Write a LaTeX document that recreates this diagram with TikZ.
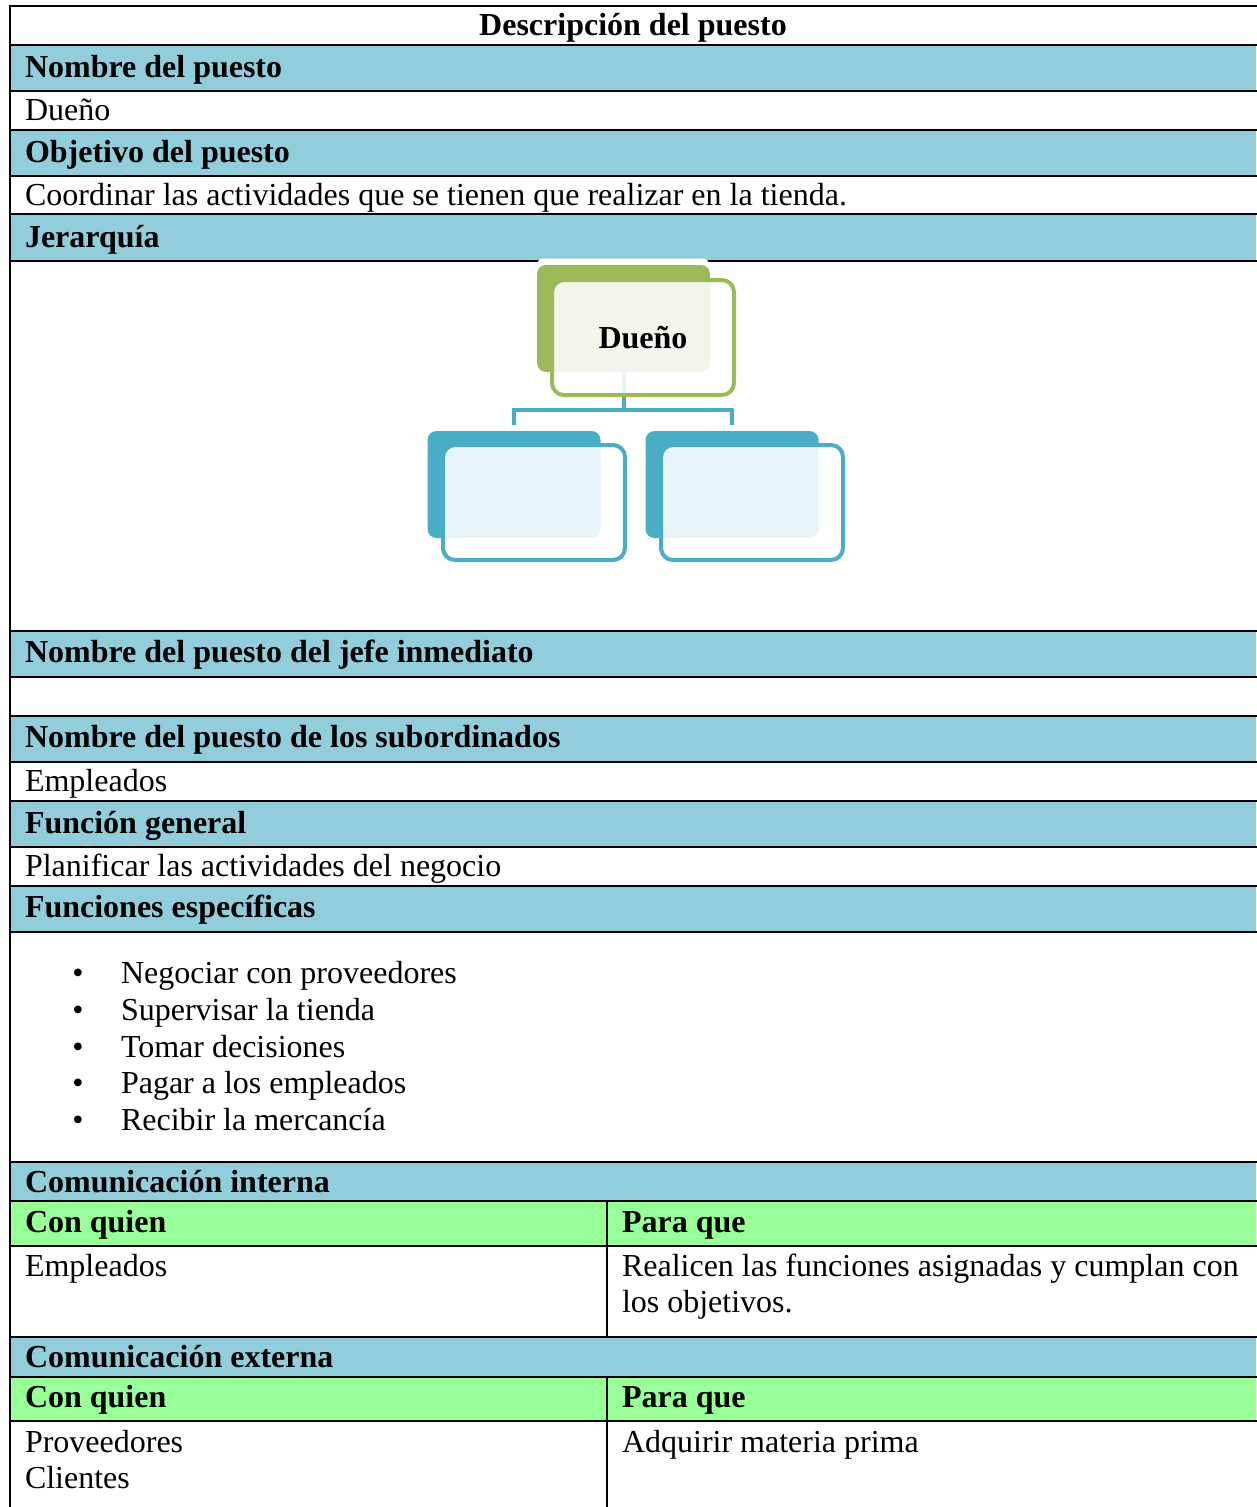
\documentclass[tikz,border=0pt]{standalone}
\usepackage{fontspec}
\setmainfont{Liberation Serif}
\begin{document}
\definecolor{hdrblue}{HTML}{92CDDC}
\definecolor{hdrgreen}{HTML}{99FF99}
\definecolor{orgreen}{HTML}{9BBB59}
\definecolor{orblue}{HTML}{4BACC6}
\begin{tikzpicture}[x=1pt,y=-1pt,
  every node/.style={inner sep=0pt,outer sep=0pt},
  txt/.style={anchor=base west,font=\fontsize{32pt}{36.8pt}\selectfont},
  hdr/.style={txt,font=\fontsize{32pt}{36.8pt}\selectfont\bfseries},
  rule/.style={line width=2.6pt,line cap=rect},
  backbox/.style={rounded corners=9pt,minimum width=173pt,minimum height=107pt},
  frontbox/.style={draw,line width=4pt,rounded corners=12pt,fill=white,fill opacity=0.88,
     text opacity=1,minimum width=182pt,minimum height=115pt},
  conn/.style={draw=orblue,line width=4pt}]
\useasboundingbox (0,0) rectangle (1256,1507);
\fill[white] (0,0) rectangle (1256,1507);

% shaded header bands
\foreach \a/\b in {45/91,130/176,214/261,631/677,716/762,801/847,886/932,1162/1201,1337/1377}
  \fill[hdrblue] (10,\a) rectangle (1256,\b);
\foreach \a/\b in {1201/1246,1377/1421}
  \fill[hdrgreen] (10,\a) rectangle (1256,\b);

% table rules
\foreach \y in {6,45,91,130,176,214,261,631,677,716,762,801,847,886,932,1162,1201,1246,1337,1377,1421}
  \draw[rule] (10,\y) -- (1256,\y);
\draw[rule] (10,6) -- (10,1507);
\draw[rule] (607,1201) -- (607,1337);
\draw[rule] (607,1377) -- (607,1507);

% cell texts
\node[hdr,anchor=base] (title) at (633,35) {Descripción del puesto};
\node[hdr] (h1) at (25,77) {Nombre del puesto};
\node[txt] (t1) at (25,120) {Dueño};
\node[hdr] (h2) at (25,162) {Objetivo del puesto};
\node[txt] (t2) at (25,205) {Coordinar las actividades que se tienen que realizar en la tienda.};
\node[hdr] (h3) at (25,247) {Jerarquía};
\node[hdr] (h4) at (25,662) {Nombre del puesto del jefe inmediato};
\node[hdr] (h5) at (25,747) {Nombre del puesto de los subordinados};
\node[txt] (t5) at (25,791) {Empleados};
\node[hdr] (h6) at (25,833) {Función general};
\node[txt] (t6) at (25,876) {Planificar las actividades del negocio};
\node[hdr] (h7) at (25,917) {Funciones específicas};
\foreach \y/\s [count=\i] in {983/Negociar con proveedores,1020/Supervisar la tienda,
    1057/Tomar decisiones,1093/Pagar a los empleados,1130/Recibir la mercancía}{
  \node[txt,anchor=base] (b\i) at (78,\y) {•};
  \node[txt] (f\i) at (121,\y) {\s};
}
\node[hdr] (h8) at (25,1192) {Comunicación interna};
\node[hdr] (c1) at (25,1232) {Con quien};
\node[hdr] (p1) at (622,1232) {Para que};
\node[txt] (c1a) at (25,1276) {Empleados};
\node[txt] (p1a) at (622,1276) {Realicen las funciones asignadas y cumplan con};
\node[txt] (p1b) at (622,1312) {los objetivos.};
\node[hdr] (h9) at (25,1367) {Comunicación externa};
\node[hdr] (c2) at (25,1407) {Con quien};
\node[hdr] (p2) at (622,1407) {Para que};
\node[txt] (c2a) at (25,1452) {Proveedores};
\node[txt] (c2b) at (25,1488) {Clientes};
\node[txt] (p2a) at (622,1452) {Adquirir materia prima};

% organisation chart
\fill[white,rounded corners=6pt] (537,258.5) rectangle (709,268);
\node[backbox,fill=orgreen] (ownerbk) at (623.5,318.5) {};
\node[backbox,fill=orblue] (leftbk) at (514,484.5) {};
\node[backbox,fill=orblue] (rightbk) at (732,484.5) {};
\coordinate (bus) at (623.5,410);
\draw[conn] (ownerbk.south) -- (bus);
\draw[conn,shorten >=6pt] (bus) -| (leftbk.north);
\draw[conn,shorten >=6pt] (bus) -| (rightbk.north);
\node[frontbox,draw=orgreen,font=\fontsize{32pt}{36.8pt}\selectfont\bfseries] (owner) at (643,337.5) {Dueño};
\node[frontbox,draw=orblue] (left) at (534,502.5) {};
\node[frontbox,draw=orblue] (right) at (752,502.5) {};
\end{tikzpicture}
\end{document}
